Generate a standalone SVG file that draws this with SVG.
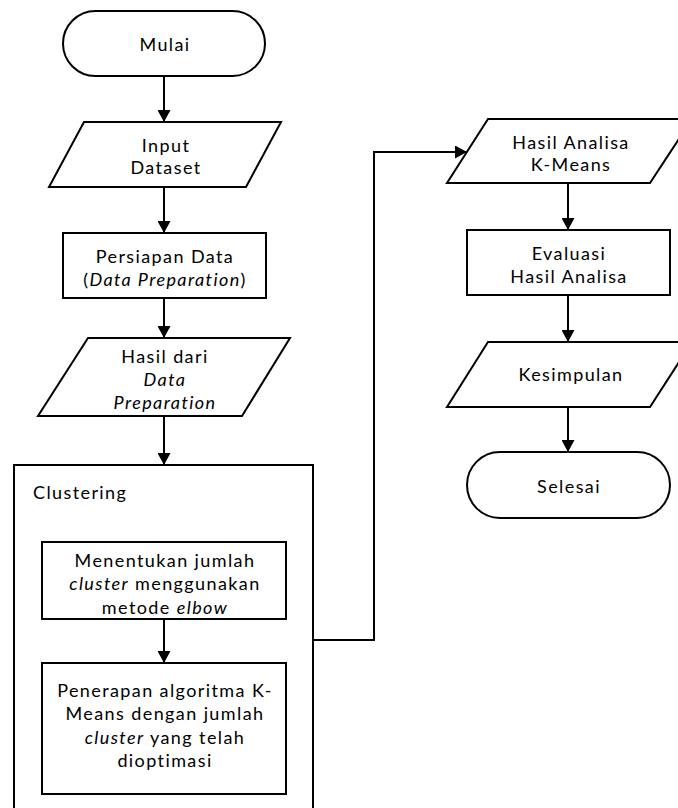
<svg xmlns="http://www.w3.org/2000/svg" width="678" height="808" viewBox="0 0 678 808">
<style>
.s{fill:#fff;stroke:#000;stroke-width:2}
.t{font-family:Lato,"Liberation Sans",sans-serif;font-size:18px;fill:#000;text-anchor:middle;dominant-baseline:central;letter-spacing:1.4px}
.c{fill:none;stroke:#000;stroke-width:2}
.i{font-style:italic}
</style>
<defs>
<marker id="ah" markerUnits="userSpaceOnUse" markerWidth="13" markerHeight="13" refX="12" refY="6.5" orient="auto">
<path d="M0,0 L12,6.5 L0,13 z" fill="#000"/>
</marker>
</defs>
<rect width="678" height="808" fill="#fff"/>
<g id="clustering">
<rect class="s" x="14" y="465" width="299" height="350"/>
<text class="t" x="33" y="492" style="text-anchor:start">Clustering</text>
</g>
<g id="mulai">
<rect class="s" x="63" y="11" width="202" height="65" rx="32.5"/>
<text class="t" x="165" y="44">Mulai</text>
</g>
<g id="input">
<polygon class="s" points="84,122 281,122 246,187 49,187"/>
<text class="t" x="166" y="145">Input</text>
<text class="t" x="166" y="167">Dataset</text>
</g>
<g id="persiapan">
<rect class="s" x="63" y="233" width="203" height="65"/>
<text class="t" x="165" y="256">Persiapan Data</text>
<text class="t" x="165" y="279">(<tspan class="i">Data Preparation</tspan>)</text>
</g>
<g id="hasildari">
<polygon class="s" points="88,338 290,338 242,416 38,416"/>
<text class="t" x="165" y="356">Hasil dari</text>
<text class="t i" x="165" y="379">Data</text>
<text class="t i" x="165" y="402">Preparation</text>
</g>
<g id="menentukan">
<rect class="s" x="42" y="542" width="244" height="77"/>
<text class="t" x="165" y="560">Menentukan jumlah</text>
<text class="t" x="165" y="583"><tspan class="i">cluster</tspan> menggunakan</text>
<text class="t" x="165" y="607">metode <tspan class="i">elbow</tspan></text>
</g>
<g id="penerapan">
<rect class="s" x="42" y="663" width="244" height="131"/>
<text class="t" x="165" y="690">Penerapan algoritma K-</text>
<text class="t" x="165" y="713">Means dengan jumlah</text>
<text class="t" x="165" y="737"><tspan class="i">cluster</tspan> yang telah</text>
<text class="t" x="165" y="760">dioptimasi</text>
</g>
<g id="hasilanalisa">
<polygon class="s" points="488,119 692,119 650,183 447,183"/>
<text class="t" x="571" y="142">Hasil Analisa</text>
<text class="t" x="571" y="164">K-Means</text>
</g>
<g id="evaluasi">
<rect class="s" x="467" y="230" width="203" height="65"/>
<text class="t" x="569" y="253">Evaluasi</text>
<text class="t" x="569" y="276">Hasil Analisa</text>
</g>
<g id="kesimpulan">
<polygon class="s" points="488,342 692,342 650,407 447,407"/>
<text class="t" x="571" y="374">Kesimpulan</text>
</g>
<g id="selesai">
<rect class="s" x="467" y="452" width="203" height="66" rx="33"/>
<text class="t" x="569" y="486">Selesai</text>
</g>
<g id="connectors">
<line class="c" x1="164" y1="76" x2="164" y2="122" marker-end="url(#ah)"/>
<line class="c" x1="164" y1="187" x2="164" y2="233" marker-end="url(#ah)"/>
<line class="c" x1="164" y1="298" x2="164" y2="338" marker-end="url(#ah)"/>
<line class="c" x1="164" y1="416" x2="164" y2="465" marker-end="url(#ah)"/>
<line class="c" x1="164" y1="619" x2="164" y2="663" marker-end="url(#ah)"/>
<polyline class="c" points="313,640 374,640 374,152 467,152" marker-end="url(#ah)"/>
<line class="c" x1="568" y1="183" x2="568" y2="230" marker-end="url(#ah)"/>
<line class="c" x1="568" y1="295" x2="568" y2="342" marker-end="url(#ah)"/>
<line class="c" x1="568" y1="407" x2="568" y2="452" marker-end="url(#ah)"/>
</g>
</svg>
